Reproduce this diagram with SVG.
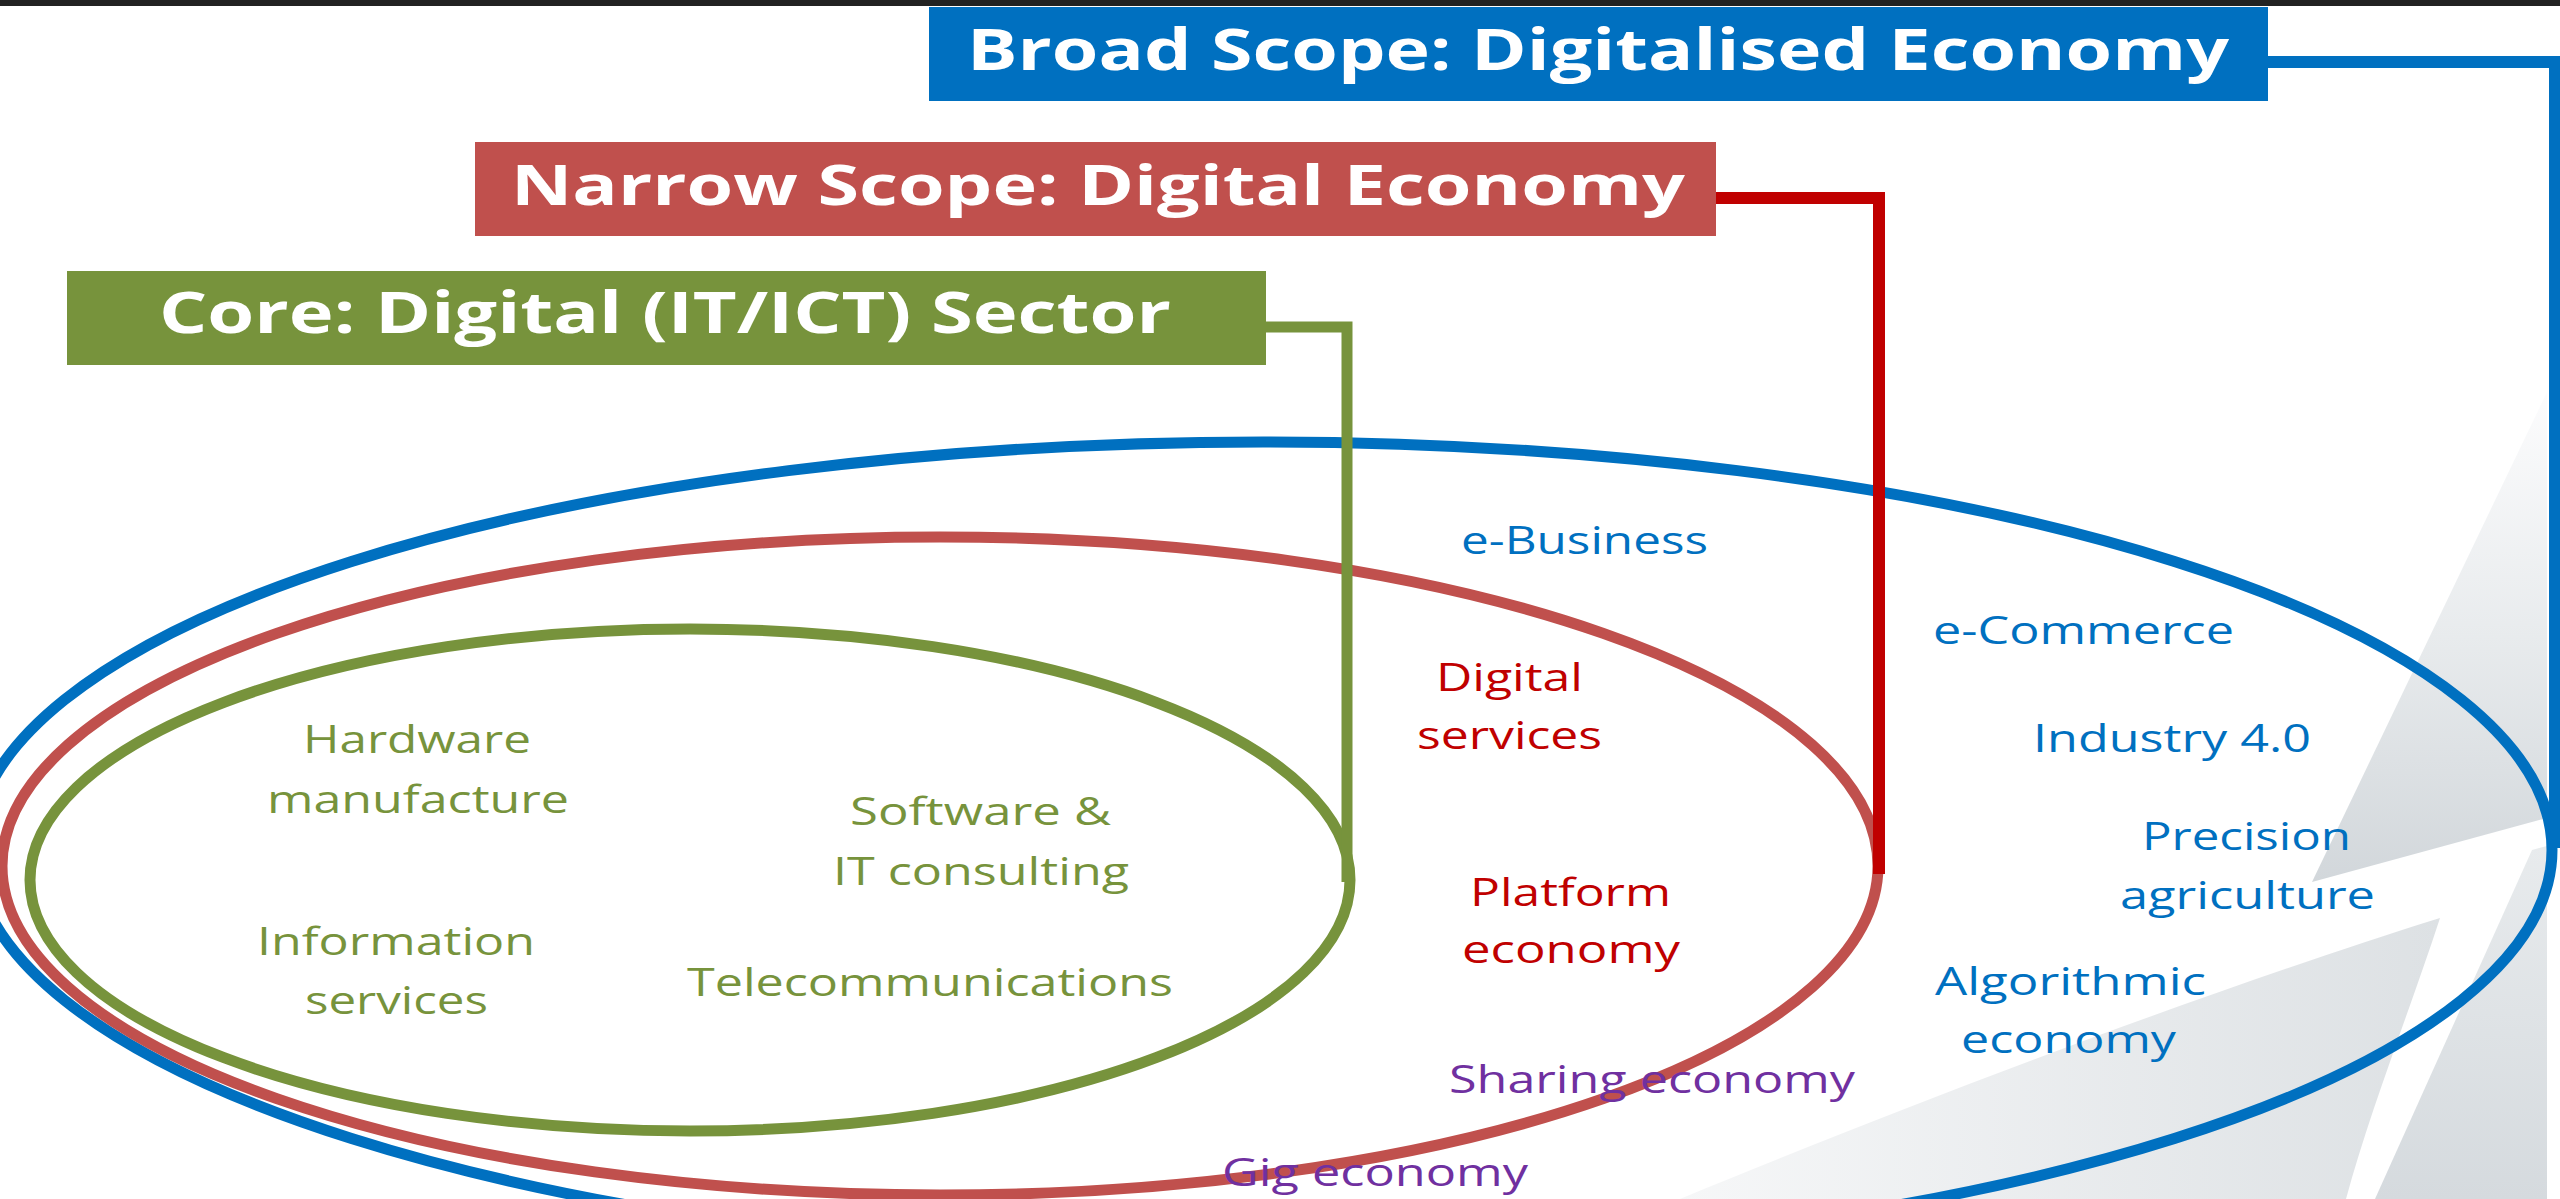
<svg xmlns="http://www.w3.org/2000/svg" width="2560" height="1199" viewBox="0 0 2560 1199">
<defs>
<linearGradient id="gWedge" x1="0" y1="0" x2="0" y2="1">
<stop offset="0" stop-color="#FCFCFD"/>
<stop offset="0.5" stop-color="#E8EBED"/>
<stop offset="1" stop-color="#D2D7DB"/>
</linearGradient>
<linearGradient id="gBand" x1="0" y1="0" x2="1" y2="0">
<stop offset="0" stop-color="#F6F7F8"/>
<stop offset="1" stop-color="#DDE1E4"/>
</linearGradient>
<linearGradient id="gCorner" x1="0" y1="0" x2="0" y2="1">
<stop offset="0" stop-color="#E8EBED"/>
<stop offset="1" stop-color="#D5DADE"/>
</linearGradient>
<style>
.head{font-family:"Open Sans","Liberation Sans",sans-serif;font-weight:700;fill:#FFFFFF;}
.lbl{font-family:"Open Sans","Liberation Sans",sans-serif;font-size:38px;}
.lg{fill:#77933C;}
.lr{fill:#C00000;}
.lb{fill:#0070C0;}
.lp{fill:#7030A0;}
.ell{fill:none;stroke-width:11;}
.con{fill:none;stroke-linejoin:miter;}
</style>
</defs>
<rect x="0" y="0" width="2560" height="1199" fill="#FFFFFF"/>
<rect x="0" y="0" width="2560" height="6" fill="#222222"/>
<g id="background">
<path d="M2547,392 L2312,882 L2547,818 Z" fill="url(#gWedge)"/>
<path d="M1680,1199 C1920,1100 2210,990 2440,918 C2410,1010 2370,1110 2346,1199 Z" fill="url(#gBand)"/>
<path d="M2532,850 L2547,846 L2547,1199 L2375,1199 Z" fill="url(#gCorner)"/>
</g>
<g id="ellipses">
<ellipse id="broad-ellipse" cx="1263" cy="850" rx="1289" ry="408" class="ell" stroke="#0070C0"/>
<ellipse id="narrow-ellipse" cx="940" cy="866" rx="938" ry="329" class="ell" stroke="#C0504D"/>
<ellipse id="core-ellipse" cx="690" cy="880" rx="660" ry="251" class="ell" stroke="#77933C"/>
</g>
<g id="connectors">
<path d="M2268,62 L2555,62 L2555,848" class="con" stroke="#0070C0" stroke-width="12"/>
<path d="M1716,198 L1879,198 L1879,874" class="con" stroke="#C00000" stroke-width="12"/>
<path d="M1266,327 L1347,327 L1347,882" class="con" stroke="#77933C" stroke-width="11"/>
</g>
<g id="broad-scope">
<rect x="929" y="7" width="1339" height="94" fill="#0070C0"/>
<text x="967" y="70" class="head" font-size="58" textLength="1262" lengthAdjust="spacingAndGlyphs">Broad Scope: Digitalised Economy</text>
</g>
<g id="narrow-scope">
<rect x="475" y="142" width="1241" height="94" fill="#C0504D"/>
<text x="511" y="205" class="head" font-size="56" textLength="1174" lengthAdjust="spacingAndGlyphs">Narrow Scope: Digital Economy</text>
</g>
<g id="core">
<rect x="67" y="271" width="1199" height="94" fill="#77933C"/>
<text x="159" y="333" class="head" font-size="58" textLength="1012" lengthAdjust="spacingAndGlyphs">Core: Digital (IT/ICT) Sector</text>
</g>
<g id="core-labels">
<text x="303" y="753" class="lbl lg" textLength="228" lengthAdjust="spacingAndGlyphs">Hardware</text>
<text x="267" y="813" class="lbl lg" textLength="302" lengthAdjust="spacingAndGlyphs">manufacture</text>
<text x="850" y="825" class="lbl lg" textLength="261" lengthAdjust="spacingAndGlyphs">Software &amp;</text>
<text x="833" y="885" class="lbl lg" textLength="296" lengthAdjust="spacingAndGlyphs">IT consulting</text>
<text x="257" y="955" class="lbl lg" textLength="278" lengthAdjust="spacingAndGlyphs">Information</text>
<text x="305" y="1014" class="lbl lg" textLength="183" lengthAdjust="spacingAndGlyphs">services</text>
<text x="687" y="996" class="lbl lg" textLength="486" lengthAdjust="spacingAndGlyphs">Telecommunications</text>
</g>
<g id="narrow-labels">
<text x="1436" y="691" class="lbl lr" textLength="147" lengthAdjust="spacingAndGlyphs">Digital</text>
<text x="1417" y="749" class="lbl lr" textLength="185" lengthAdjust="spacingAndGlyphs">services</text>
<text x="1470" y="906" class="lbl lr" textLength="201" lengthAdjust="spacingAndGlyphs">Platform</text>
<text x="1462" y="963" class="lbl lr" textLength="218" lengthAdjust="spacingAndGlyphs">economy</text>
</g>
<g id="broad-labels">
<text x="1461" y="554" class="lbl lb" textLength="247" lengthAdjust="spacingAndGlyphs">e-Business</text>
<text x="1933" y="644" class="lbl lb" textLength="301" lengthAdjust="spacingAndGlyphs">e-Commerce</text>
<text x="2033" y="752" class="lbl lb" textLength="278" lengthAdjust="spacingAndGlyphs">Industry 4.0</text>
<text x="2142" y="850" class="lbl lb" textLength="209" lengthAdjust="spacingAndGlyphs">Precision</text>
<text x="2120" y="909" class="lbl lb" textLength="255" lengthAdjust="spacingAndGlyphs">agriculture</text>
<text x="1935" y="995" class="lbl lb" textLength="271" lengthAdjust="spacingAndGlyphs">Algorithmic</text>
<text x="1961" y="1053" class="lbl lb" textLength="215" lengthAdjust="spacingAndGlyphs">economy</text>
</g>
<g id="purple-labels">
<text x="1449" y="1093" class="lbl lp" textLength="406" lengthAdjust="spacingAndGlyphs">Sharing economy</text>
<text x="1222" y="1186" class="lbl lp" textLength="306" lengthAdjust="spacingAndGlyphs">Gig economy</text>
</g>
</svg>
